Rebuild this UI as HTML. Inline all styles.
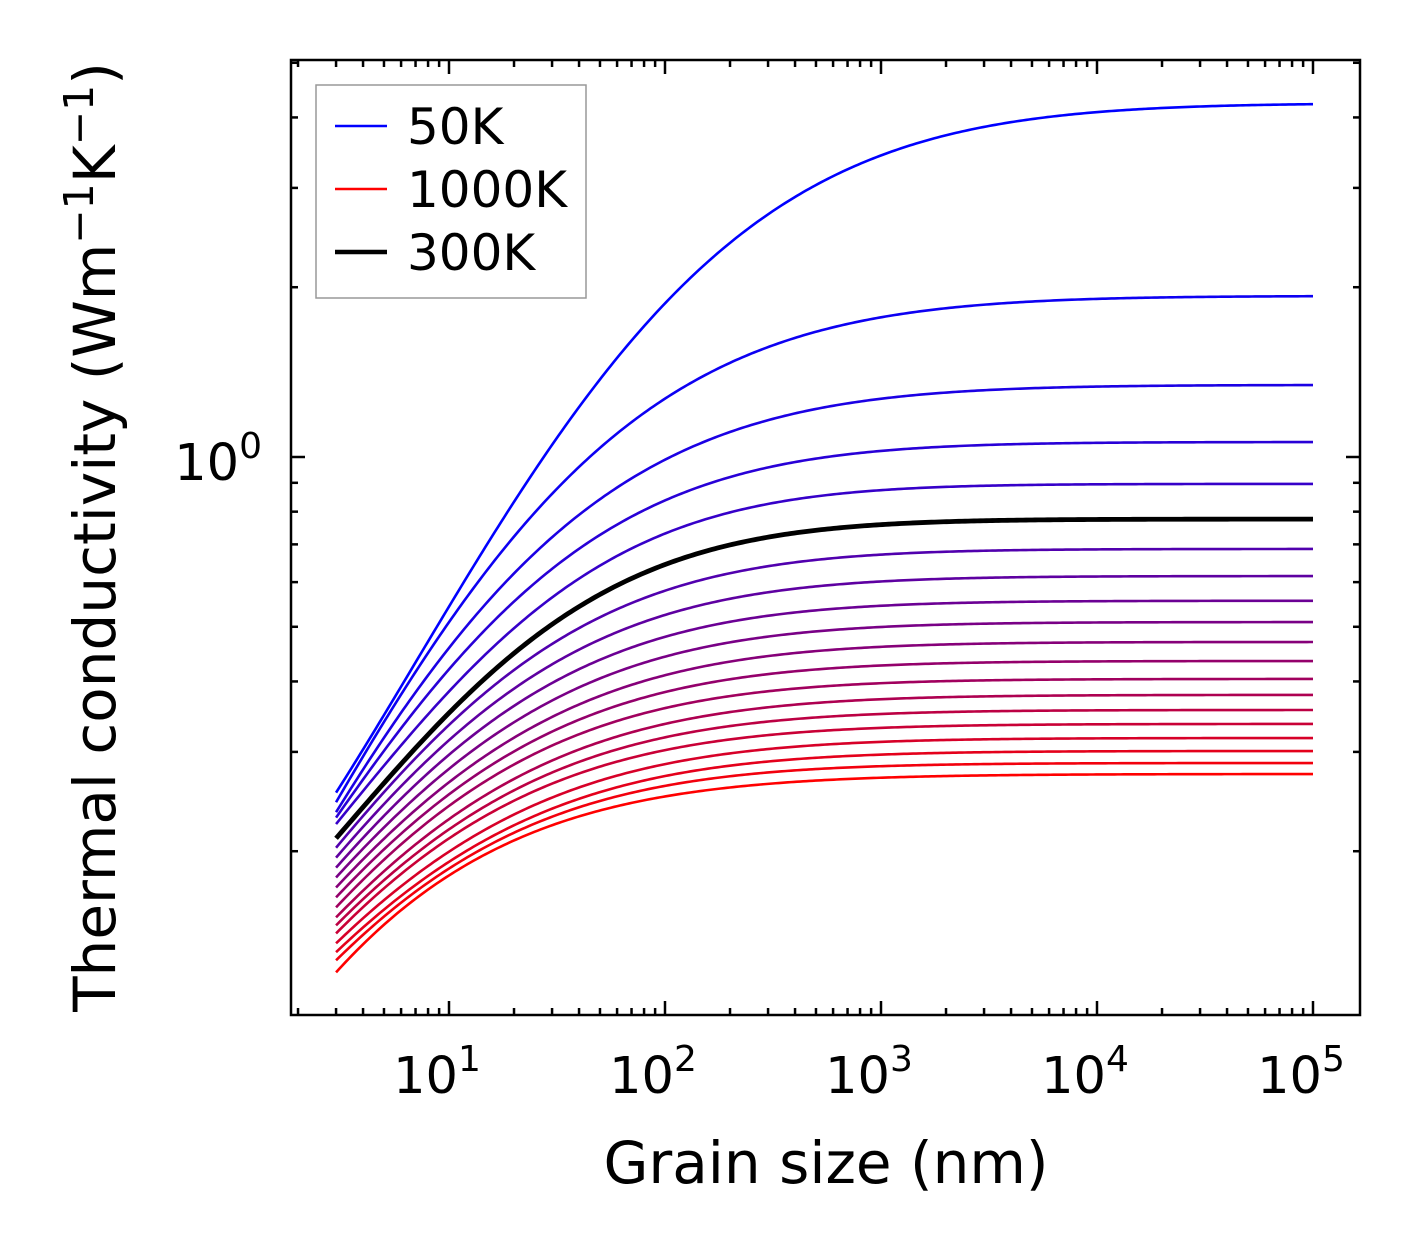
<!DOCTYPE html>
<html><head><meta charset="utf-8"><style>
html,body{margin:0;padding:0;background:#fff;}
svg{display:block;font-family:"DejaVu Sans","Liberation Sans",sans-serif;}
</style></head><body>
<svg id="chart" width="1421" height="1254" viewBox="0 0 1421 1254" xmlns="http://www.w3.org/2000/svg">
<g id="curves"></g>
<g id="ticks"></g>
<rect x="291" y="60" width="1069" height="955" fill="none" stroke="#000" stroke-width="2.5"/>
<g id="xlabels"></g>
<text x="262" y="480" font-size="51" text-anchor="end">10<tspan dy="-22" font-size="36">0</tspan></text>
<text x="826" y="1183" font-size="58" text-anchor="middle">Grain size (nm)</text>
<text transform="translate(115,537) rotate(-90)" font-size="58" text-anchor="middle">Thermal conductivity (Wm<tspan dy="-22" font-size="41">−1</tspan><tspan dy="22">K</tspan><tspan dy="-22" font-size="41">−1</tspan><tspan dy="22">)</tspan></text>
<g>
<rect x="316" y="85" width="270" height="213" fill="#fff" stroke="#999" stroke-width="1.5"/>
<line x1="335" y1="126" x2="387" y2="126" stroke="#0000ff" stroke-width="2.4"/>
<text x="407" y="144" font-size="50">50K</text>
<line x1="335" y1="189" x2="387" y2="189" stroke="#ff0000" stroke-width="2.4"/>
<text x="407" y="207" font-size="50">1000K</text>
<line x1="335" y1="252" x2="387" y2="252" stroke="#000" stroke-width="4.5"/>
<text x="407" y="270" font-size="50">300K</text>
</g>
</svg>
<script>
const grainSizes = [3, 10, 26, 100, 300, 1600, 10000, 100000];
const temperatures = [50,100,150,200,250,300,350,400,450,500,550,600,650,700,750,800,850,900,950,1000];
const k50 = [0.254,0.542,0.976,1.86,2.69,3.65,4.16,4.24];
const k100 = [0.245,0.504,0.815,1.30,1.535,1.81,1.91,1.93];
const k150 = [0.235,0.455,0.690,1.0,1.149,1.288,1.331,1.342];
const k200 = [0.230,0.416,0.610,0.856,0.9406,1.033,1.059,1.063];
const k250 = [0.2244,0.378,0.5465,0.751,0.815,0.870,0.888,0.896];
const k300 = [0.212,0.343,0.502,0.651,0.707,0.758,0.773,0.776];
const k350 = [0.2035,0.330,0.4585,0.583,0.631,0.676,0.684,0.687];
const k400 = [0.1953,0.311,0.4208,0.529,0.568,0.605,0.613,0.615];
const k450 = [0.1875,0.293,0.391,0.4835,0.516,0.551,0.553,0.556];
const k500 = [0.180,0.2773,0.3634,0.4455,0.4749,0.5035,0.5076,0.5097];
const k550 = [0.1728,0.2626,0.3402,0.4124,0.4391,0.4642,0.468,0.4699];
const k600 = [0.166,0.2497,0.3215,0.3847,0.408,0.4295,0.433,0.4348];
const k650 = [0.1593,0.2385,0.3036,0.3603,0.3805,0.4007,0.4024,0.4041];
const k700 = [0.1529,0.2261,0.2855,0.3376,0.3567,0.3755,0.377,0.3786];
const k750 = [0.148,0.2169,0.2719,0.3201,0.3364,0.353,0.3545,0.356];
const k800 = [0.1432,0.2091,0.260,0.3036,0.3186,0.3334,0.3348,0.3363];
const k850 = [0.1375,0.1982,0.2455,0.2867,0.301,0.3149,0.3162,0.3175];
const k900 = [0.1326,0.1902,0.2348,0.273,0.2858,0.2999,0.3005,0.3011];
const k950 = [0.1283,0.1847,0.2282,0.262,0.2732,0.2855,0.286,0.2867];
const k1000 = [0.1221,0.180,0.2199,0.2505,0.2617,0.2719,0.273,0.2741];
const series = [k50,k100,k150,k200,k250,k300,k350,k400,k450,k500,k550,k600,k650,k700,k750,k800,k850,k900,k950,k1000];
const xTickExps = [1,2,3,4,5];
const yMajorTicks = [1];
const yMinorTicks = [0.2,0.3,0.4,0.5,0.6,0.7,0.8,0.9,2,3,4,5];

const NS = "http://www.w3.org/2000/svg";
function xScale(v){ return 449 + (Math.log10(v) - 1) * 216; }
function yScale(v){ return 457 - Math.log10(v) * 564; }
const X0=291, X1=1360, Y0=60, Y1=1015;

// weighted least-squares quadratic fit: g(u) = a + b u + c u^2
function fitQuad(us, gs, ws){
  const S=[[0,0,0],[0,0,0],[0,0,0]], R=[0,0,0];
  for(let i=0;i<us.length;i++){
    const p=[1,us[i],us[i]*us[i]];
    for(let r=0;r<3;r++){ R[r]+=ws[i]*p[r]*gs[i]; for(let c=0;c<3;c++) S[r][c]+=ws[i]*p[r]*p[c]; }
  }
  // Gaussian elimination
  for(let k=0;k<3;k++){
    for(let r=k+1;r<3;r++){
      const f=S[r][k]/S[k][k];
      for(let c=k;c<3;c++) S[r][c]-=f*S[k][c];
      R[r]-=f*R[k];
    }
  }
  const x=[0,0,0];
  for(let r=2;r>=0;r--){ let s=R[r]; for(let c=r+1;c<3;c++) s-=S[r][c]*x[c]; x[r]=s/S[r][r]; }
  return x;
}

const curves=document.getElementById('curves');
const lx=grainSizes.map(Math.log10);
let blackPath=null;
series.forEach((vals,idx)=>{
  const lp=Math.log10(vals[vals.length-1]);
  const us=[], gs=[], ws=[];
  for(let i=0;i<vals.length-1;i++){
    const gap=lp-Math.log10(vals[i]);
    if(gap>1e-5){ us.push(lx[i]); gs.push(Math.log(gap)); ws.push(gap*gap+1e-6); }
  }
  const [A,B,C]=fitQuad(us,gs,ws);
  const vertex=(C>0)? -B/(2*C) : Infinity;
  let dstr='';
  const a=lx[0], b=lx[lx.length-1], N=320;
  for(let j=0;j<=N;j++){
    const u=a+(b-a)*j/N;
    const uu=Math.min(u, vertex);
    const g=A+B*uu+C*uu*uu;
    const lv=lp-Math.exp(g);
    const px=xScale(Math.pow(10,u)), py=yScale(Math.pow(10,lv));
    dstr+=(j?'L':'M')+px.toFixed(2)+' '+py.toFixed(2);
  }
  const p=document.createElementNS(NS,'path');
  p.setAttribute('d',dstr);
  p.setAttribute('fill','none');
  p.setAttribute('stroke-linejoin','round');
  const T=temperatures[idx];
  if(T===300){
    p.setAttribute('stroke','#000'); p.setAttribute('stroke-width','4.8');
    blackPath=p;
  } else {
    const t=idx/(series.length-1);
    p.setAttribute('stroke','rgb('+Math.round(255*t)+',0,'+Math.round(255*(1-t))+')');
    p.setAttribute('stroke-width','2.6');
  }
  
  
  curves.appendChild(p);
});
if(blackPath) curves.appendChild(blackPath);

const ticks=document.getElementById('ticks');
function tick(x1,y1,x2,y2,name){
  const l=document.createElementNS(NS,'line');
  l.setAttribute('x1',x1);l.setAttribute('y1',y1);l.setAttribute('x2',x2);l.setAttribute('y2',y2);
  l.setAttribute('stroke','#000');l.setAttribute('stroke-width','2.5');
  
  
  ticks.appendChild(l);
}
for(let e=0;e<=5;e++){
  for(let m=1;m<10;m++){
    const v=m*Math.pow(10,e), x=xScale(v);
    if(x<X0+1||x>X1-1) continue;
    const L=(m===1)?14:7;
    tick(x,Y1,x,Y1-L,'x-tick');
    tick(x,Y0,x,Y0+L,'x-tick-top');
  }
}
yMajorTicks.forEach(v=>{const y=yScale(v);tick(X0,y,X0+14,y,'y-major-tick');tick(X1,y,X1-14,y,'y-major-tick-right');});
yMinorTicks.forEach(v=>{const y=yScale(v); if(y<Y0+1||y>Y1-1) return; tick(X0,y,X0+7,y,'y-minor-tick');tick(X1,y,X1-7,y,'y-minor-tick-right');});

const xl=document.getElementById('xlabels');
xTickExps.forEach(e=>{
  const t=document.createElementNS(NS,'text');
  t.setAttribute('x',xScale(Math.pow(10,e))-12);
  t.setAttribute('y',1093);
  t.setAttribute('font-size','51');
  t.setAttribute('text-anchor','middle');
  
  
  t.textContent='10';
  const s=document.createElementNS(NS,'tspan');
  s.setAttribute('dy','-22');s.setAttribute('font-size','36');
  s.textContent=String(e);
  t.appendChild(s);
  xl.appendChild(t);
});
</script>
</body></html>
